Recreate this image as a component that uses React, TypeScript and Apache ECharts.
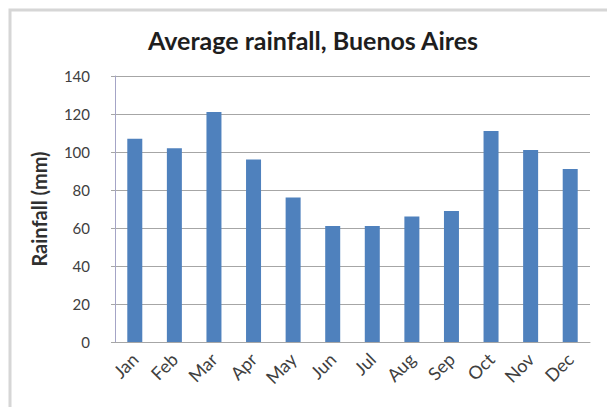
import React, { useEffect, useRef } from "react";
import * as echarts from "echarts";

const months = ["Jan", "Feb", "Mar", "Apr", "May", "Jun", "Jul", "Aug", "Sep", "Oct", "Nov", "Dec"];
const rainfall = [107, 102, 121, 96, 76, 61, 61, 66, 69, 111, 101, 91];
const titleText = "Average rainfall, Buenos Aires";
const yAxisName = "Rainfall (mm)";

export default function App() {
  const ref = useRef<HTMLDivElement>(null);
  useEffect(() => {
    if (!ref.current) return;
    const chart = echarts.init(ref.current, null, { renderer: "svg" });
    const font = "Lato, 'Open Sans', sans-serif";
    chart.setOption({
      animation: false,
      backgroundColor: "#ffffff",
      textStyle: { fontFamily: font },
      title: {
        text: titleText,
        left: 308,
        top: 22,
        textAlign: "center",
        textStyle: { fontFamily: font, fontSize: 25, fontWeight: "bold", color: "#1e1e1e" },
      },
      graphic: [
        {
          type: "polyline",
          shape: { points: [[10, 420], [10, 10], [620, 10]] },
          style: { fill: "none", stroke: "#d6d6d6", lineWidth: 3 },
        },
      ],
      grid: { left: 115, right: 17, top: 76, bottom: 65 },
      xAxis: {
        type: "category",
        data: months,
        axisLine: { lineStyle: { color: "#a6a6a6", width: 1 } },
        axisTick: { show: false },
        axisLabel: { rotate: 45, margin: 14, fontSize: 18, color: "#404040", fontFamily: font },
      },
      yAxis: {
        type: "value",
        min: 0,
        max: 140,
        interval: 20,
        name: yAxisName,
        nameLocation: "middle",
        nameGap: 66,
        nameTextStyle: { fontSize: 20, fontWeight: "bold", color: "#303030", fontFamily: font },
        axisLine: { show: true, lineStyle: { color: "#a4a4c6", width: 1 } },
        axisTick: { show: true, length: 4, lineStyle: { color: "#a6a6a6" } },
        axisLabel: { margin: 25, fontSize: 15, color: "#404040", fontFamily: font },
        splitLine: { lineStyle: { color: "#a6a6a6", width: 1 } },
      },
      series: [
        {
          type: "bar",
          data: rainfall,
          barWidth: 15,
          itemStyle: { color: "#4f81bd" },
        },
      ],
    });
    return () => chart.dispose();
  }, []);
  return (
    <div
      ref={ref}
      style={{ position: "fixed", left: 0, top: 0, width: 607, height: 407 }}
    />
  );
}
